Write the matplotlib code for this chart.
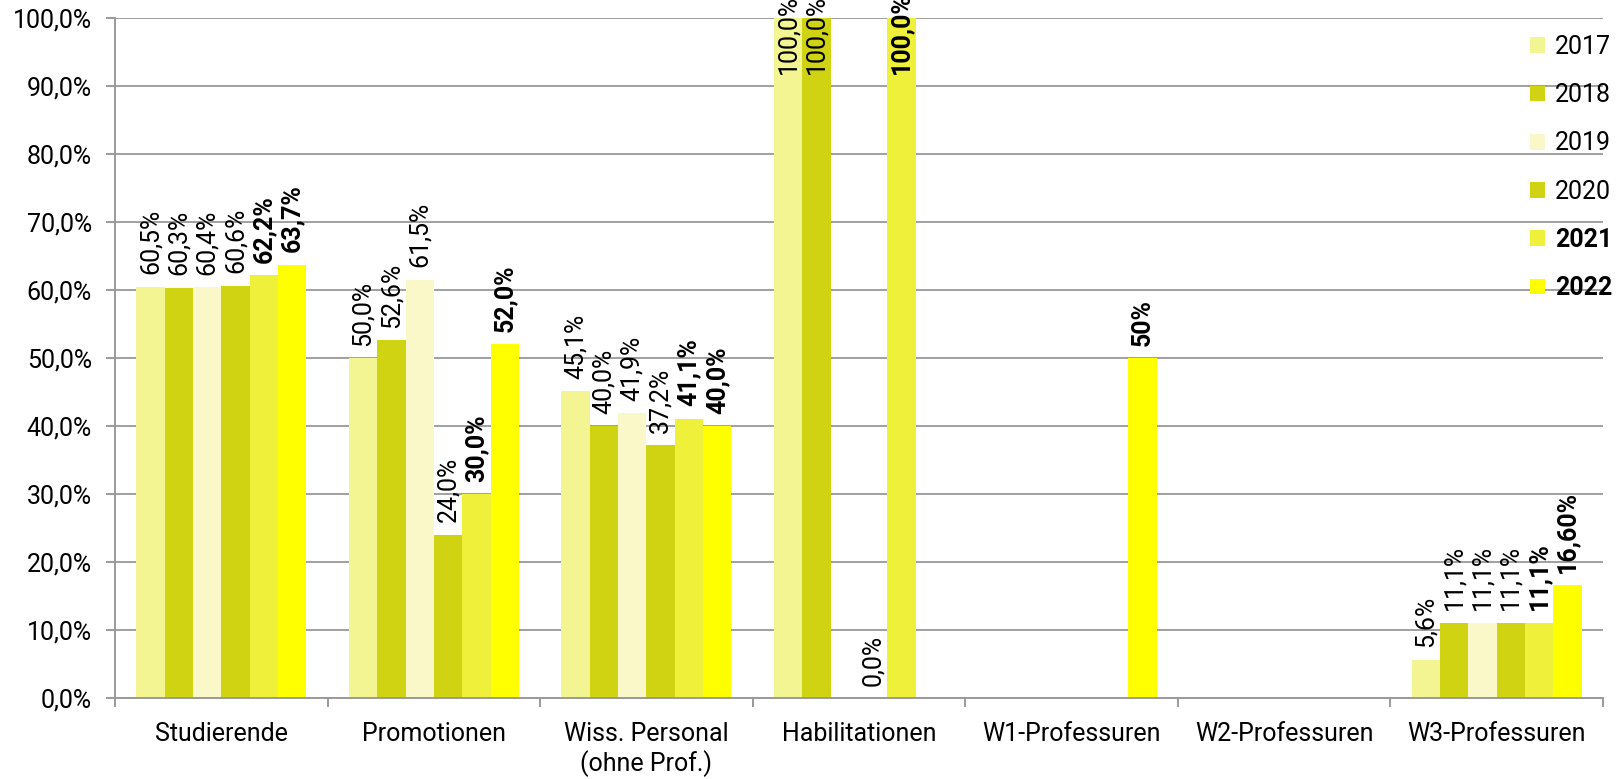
import matplotlib.pyplot as plt
import numpy as np

plt.rcParams['font.family'] = ['Roboto', 'DejaVu Sans']

categories = ["Studierende", "Promotionen", "Wiss. Personal\n(ohne Prof.)",
              "Habilitationen", "W1-Professuren", "W2-Professuren", "W3-Professuren"]
years = ["2017", "2018", "2019", "2020", "2021", "2022"]

nan = np.nan
# share in % per year (NaN = no bar / no label)
v2017 = [60.5, 50.0, 45.1, 100.0, nan, nan, 5.6]
v2018 = [60.3, 52.6, 40.0, 100.0, nan, nan, 11.1]
v2019 = [60.4, 61.5, 41.9, nan, nan, nan, 11.1]
v2020 = [60.6, 24.0, 37.2, 0.0, nan, nan, 11.1]
v2021 = [62.2, 30.0, 41.1, 100.0, nan, nan, 11.1]
v2022 = [63.7, 52.0, 40.0, nan, 50.0, nan, 16.6]
values = [v2017, v2018, v2019, v2020, v2021, v2022]

# label texts as printed in the chart
l2017 = ["60,5%", "50,0%", "45,1%", "100,0%", "", "", "5,6%"]
l2018 = ["60,3%", "52,6%", "40,0%", "100,0%", "", "", "11,1%"]
l2019 = ["60,4%", "61,5%", "41,9%", "", "", "", "11,1%"]
l2020 = ["60,6%", "24,0%", "37,2%", "0,0%", "", "", "11,1%"]
l2021 = ["62,2%", "30,0%", "41,1%", "100,0%", "", "", "11,1%"]
l2022 = ["63,7%", "52,0%", "40,0%", "", "50%", "", "16,60%"]
labels = [l2017, l2018, l2019, l2020, l2021, l2022]

colors = ["#F3F592", "#D0D312", "#FAF8C8", "#D0D312", "#EEF03A", "#FFFF00"]
bold_years = ["2021", "2022"]

fig = plt.figure(figsize=(16.19, 7.79), dpi=100)
ax = fig.add_axes([115 / 1619, 1 - 698 / 779, (1603 - 115) / 1619, (698 - 18) / 779])

x = np.arange(len(categories))
w = 0.1333
fs = 18

handles = []
for i, year in enumerate(years):
    pos = x + (i - 2.5) * w
    vals = np.array(values[i]) / 100
    b = ax.bar(pos, np.nan_to_num(vals), w, color=colors[i], zorder=3, label=year)
    handles.append(b)
    weight = 'bold' if year in bold_years else 'normal'
    for p, v, t in zip(pos, vals, labels[i]):
        if t == "" or np.isnan(v):
            continue
        # labels of full bars sit inside the bar top, like in the original
        dy = -40 if v >= 0.95 else 9
        ax.annotate(t, (p, v), xytext=(0, dy), textcoords='offset points',
                    rotation=90, ha='center', va='bottom', fontsize=fs,
                    fontweight=weight, annotation_clip=False, zorder=4)

ax.set_xlim(-0.5, len(categories) - 0.5)
ax.set_ylim(0, 1)
ax.set_yticks(np.arange(0, 1.01, 0.1))
ax.set_yticklabels([f"{t:.1f}%".replace(".", ",") for t in np.arange(0, 100.1, 10)])
ax.set_xticks(np.arange(-0.5, len(categories)), minor=False)
ax.set_xticklabels([])
ax.set_xticks(x, minor=True)
ax.set_xticklabels(categories, minor=True, linespacing=1.2)

ax.yaxis.grid(True, color="#A0A0A0", linewidth=1.4, zorder=0)
ax.set_axisbelow(True)
for s in ["top", "right"]:
    ax.spines[s].set_visible(False)
for s in ["left", "bottom"]:
    ax.spines[s].set_color("#9A9A9A")
    ax.spines[s].set_linewidth(1.4)
    ax.spines[s].set_zorder(5)

ax.tick_params(axis='y', length=6.5, width=1.4, color="#9A9A9A", pad=10, labelsize=fs)
ax.tick_params(axis='x', which='major', length=6.5, width=1.4, color="#9A9A9A")
ax.tick_params(axis='x', which='minor', length=0, pad=17, labelsize=fs)

leg = ax.legend(handles=handles, loc='upper left', bbox_to_anchor=(1530 / 1619, 1 - 35 / 779),
                bbox_transform=fig.transFigure, frameon=False, fontsize=fs,
                handlelength=0.6, handleheight=0.6, handletextpad=0.4, labelspacing=0.97,
                borderaxespad=0, borderpad=0)
for t in leg.get_texts():
    if t.get_text() in bold_years:
        t.set_fontweight('bold')

plt.savefig('out.png', dpi=100)
